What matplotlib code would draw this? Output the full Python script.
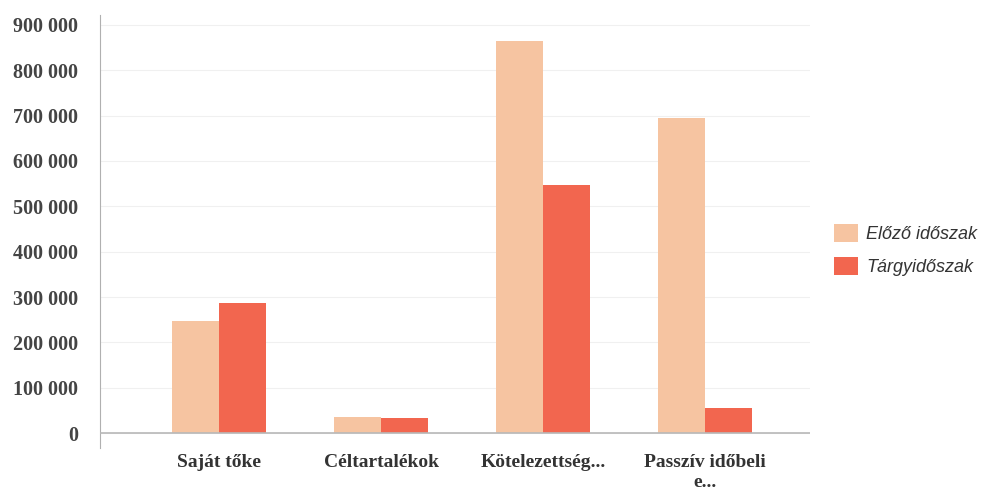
import matplotlib
matplotlib.use("Agg")
import numpy as np
import matplotlib.pyplot as plt
from matplotlib.ticker import FuncFormatter

# ── data ──────────────────────────────────────────────────────────────────────
categories = ["Saját tőke", "Céltartalékok", "Kötelezettség...", "Passzív időbeli\ne..."]
elozo = [247000, 35000, 865000, 695000]
targy = [287000, 34000, 546000, 55000]
series_names = ["Előző időszak", "Tárgyidőszak"]
yticks = [0, 100000, 200000, 300000, 400000, 500000, 600000, 700000, 800000, 900000]

COLORS = ["#F6C4A1", "#F2664F"]

fig = plt.figure(figsize=(9.94, 5.0), dpi=100)
ax = fig.add_axes([0.101, 0.104, 0.714, 0.866])

x = np.arange(len(categories))
w = 0.29
ax.bar(x - w / 2, elozo, w, color=COLORS[0], label=series_names[0], zorder=3, linewidth=0)
ax.bar(x + w / 2, targy, w, color=COLORS[1], label=series_names[1], zorder=3, linewidth=0)

ax.set_xlim(-0.735, 3.65)
ax.set_ylim(-33000, 922000)
ax.set_yticks(yticks)
ax.set_yticks([0], minor=True)
ax.yaxis.set_major_formatter(FuncFormatter(lambda v, _: f"{int(v):,}".replace(",", " ")))
ax.grid(axis="y", which="major", color="#f0f0f0", linewidth=0.8, zorder=0)

for s in ("top", "right", "bottom"):
    ax.spines[s].set_visible(False)
ax.spines["left"].set_color("#b0b0b0")
ax.axhline(0, color="#b8b8b8", linewidth=1.2, zorder=4)

ax.tick_params(axis="y", which="major", length=0, pad=16)
ax.tick_params(axis="y", which="minor", length=12, width=1.2, color="#b0b0b0")
ax.tick_params(axis="x", length=0, pad=4)
ax.set_xticks(x)
ax.set_xticklabels(categories, fontfamily="Liberation Serif", fontweight="bold",
                   fontsize=14, color="#333333", va="top", linespacing=1.25)
for lbl in ax.get_yticklabels():
    lbl.set_fontfamily("Liberation Serif")
    lbl.set_fontweight("bold")
    lbl.set_fontsize(14.5)
    lbl.set_color("#444444")

leg = fig.legend(loc="center left", bbox_to_anchor=(0.823, 0.5), frameon=False,
                 prop={"family": "Liberation Sans", "style": "italic", "size": 13},
                 handlelength=1.3, handleheight=1.2, handletextpad=0.45, labelspacing=0.75)
for t in leg.get_texts():
    t.set_color("#333333")

fig.savefig("out.png", dpi=100)
